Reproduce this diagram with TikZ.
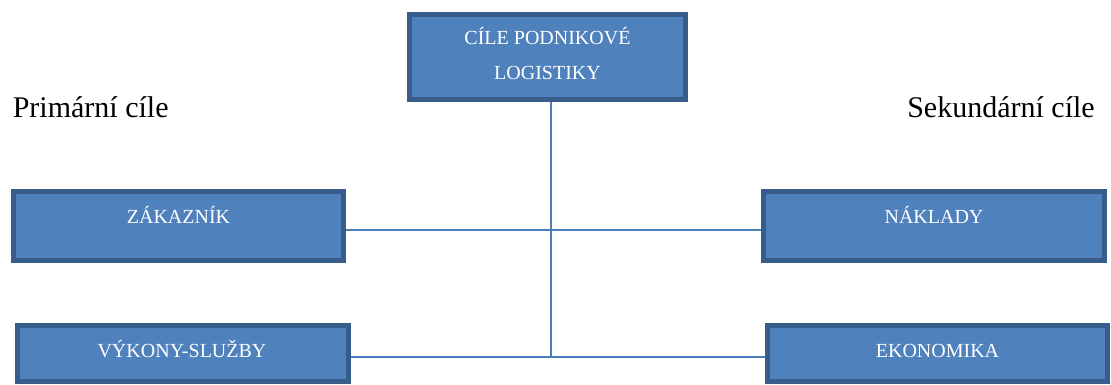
\documentclass[tikz,border=0pt]{standalone}
\usepackage{fontspec}
\setmainfont{Liberation Serif}
\definecolor{boxfill}{HTML}{4F81BD}
\definecolor{boxedge}{HTML}{385D8A}
\definecolor{wire}{HTML}{4A7EBB}
\tikzset{
  goalbox/.style={draw=boxedge, fill=boxfill, line width=3.75pt, rectangle, inner sep=0pt},
  boxtext/.style={text=white, font=\fontsize{15}{18}\selectfont, inner sep=0pt, anchor=base},
  sidetitle/.style={font=\fontsize{22.5}{27}\selectfont, inner sep=0pt, anchor=base},
  link/.style={draw=wire, line width=1.5pt}
}
\begin{document}
\begin{tikzpicture}[x=0.75pt, y=-0.75pt]
  \useasboundingbox (0,0) rectangle (1111,385);

  % main goal
  \node[goalbox, minimum width=207pt, minimum height=63.75pt] (goal) at (547.5,57) {};
  \node[boxtext] (goalA) at (547.5,45) {CÍLE PODNIKOVÉ};
  \node[boxtext] (goalB) at (547.5,80) {LOGISTIKY};

  % primary goals
  \node[goalbox, minimum width=247.5pt, minimum height=51.75pt] (zak) at (178.5,226) {};
  \node[boxtext] (zakT) at (178.5,223) {ZÁKAZNÍK};
  \node[goalbox, minimum width=248.25pt, minimum height=42pt] (vyk) at (183,353.5) {};
  \node[boxtext] (vykT) at (182,357) {VÝKONY-SLUŽBY};

  % secondary goals
  \node[goalbox, minimum width=255.75pt, minimum height=51.75pt] (nak) at (934,226) {};
  \node[boxtext] (nakT) at (934,223) {NÁKLADY};
  \node[goalbox, minimum width=255pt, minimum height=42pt] (eko) at (937.5,353.5) {};
  \node[boxtext] (ekoT) at (937.5,357.5) {EKONOMIKA};

  % group titles
  \node[sidetitle, anchor=base west] (prim) at (12.5,117.7) {Primární cíle};
  \node[sidetitle, anchor=base east] (sek) at (1095,117.7) {Sekundární cíle};

  % connectors
  \coordinate (j1) at (550.7,230.3);
  \coordinate (j2) at (550.7,356.7);
  \draw[link] (goal.south -| j1) -- (j2);
  \draw[link] (zak.east |- j1) -- (nak.west |- j1);
  \draw[link] (vyk.east |- j2) -- (eko.west |- j2);
\end{tikzpicture}
\end{document}
